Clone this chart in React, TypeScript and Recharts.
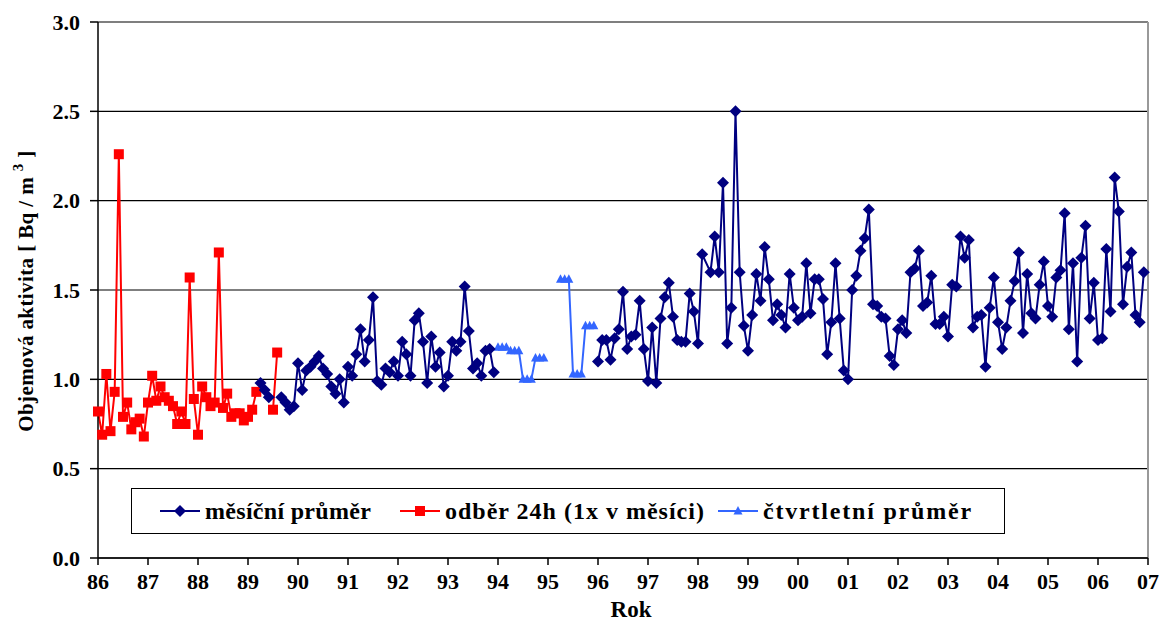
import React from "react";
import { LineChart, Line, XAxis, YAxis, CartesianGrid, ReferenceLine } from "recharts";

// x axis: one category per month, Jan 1986 .. Jan 2007
const yearLabels = [
  "86", "87", "88", "89", "90", "91", "92", "93", "94", "95", "96",
  "97", "98", "99", "00", "01", "02", "03", "04", "05", "06", "07",
];
const yTicks = [0, 0.5, 1, 1.5, 2, 2.5, 3];

// odběr 24h (1x v měsíci), month index 0 = Jan 1986, null = no sample
const redStart = 0;
const redValues = [
  0.82, 0.69, 1.03, 0.71, 0.93, 2.26, 0.79, 0.87, 0.72, 0.76, 0.78, 0.68,
  0.87, 1.02, 0.88, 0.96, 0.90, 0.88, 0.85, 0.75, 0.82, 0.75, 1.57, 0.89,
  0.69, 0.96, 0.90, 0.85, 0.87, 1.71, 0.84, 0.92, 0.79, 0.81, 0.81, 0.77,
  0.79, 0.83, 0.93, null, null, null, 0.83, 1.15,
];

// měsíční průměr, 1989 - 1993
const navyStartA = 39;
const navyValuesA = [
  0.98, 0.94, 0.90, null, null, 0.90, 0.87, 0.83, 0.85,
  1.09, 0.94, 1.05, 1.07, 1.10, 1.13, 1.06, 1.03, 0.96, 0.92, 1.00, 0.87,
  1.07, 1.02, 1.14, 1.28, 1.10, 1.22, 1.46, 0.99, 0.97, 1.06, 1.04, 1.10,
  1.02, 1.21, 1.14, 1.02, 1.33, 1.37, 1.21, 0.98, 1.24, 1.07, 1.15, 0.96,
  1.02, 1.21, 1.16, 1.21, 1.52, 1.27, 1.06, 1.09, 1.02, 1.16, 1.17, 1.04,
];

// měsíční průměr, 1996 - 2006 (null = missing month, line runs through)
const navyStartB = 120;
const navyValuesB = [
  1.10, 1.22, 1.22, 1.11, 1.23, 1.28, 1.49, 1.17, 1.24, 1.25, 1.44, 1.17,
  0.99, 1.29, 0.98, 1.34, 1.46, 1.54, 1.35, 1.22, 1.21, 1.21, 1.48, 1.38,
  1.20, 1.70, null, 1.60, 1.80, 1.60, 2.10, 1.20, 1.40, 2.50, 1.60, 1.30,
  1.16, 1.36, 1.59, 1.44, 1.74, 1.56, 1.33, 1.42, 1.36, 1.29, 1.59, 1.40,
  1.33, 1.35, 1.65, 1.37, 1.56, 1.56, 1.45, 1.14, 1.32, 1.65, 1.34, 1.05,
  1.00, 1.50, 1.58, 1.72, 1.79, 1.95, 1.42, 1.41, 1.35, 1.34, 1.13, 1.08,
  1.28, 1.33, 1.26, 1.60, 1.62, 1.72, 1.41, 1.43, 1.58, 1.31, 1.31, 1.35,
  1.24, 1.53, 1.52, 1.80, 1.68, 1.78, 1.29, 1.35, 1.36, 1.07, 1.40, 1.57,
  1.32, 1.17, 1.29, 1.44, 1.55, 1.71, 1.26, 1.59, 1.37, 1.34, 1.53, 1.66,
  1.41, 1.35, 1.57, 1.61, 1.93, 1.28, 1.65, 1.10, 1.68, 1.86, 1.34, 1.54,
  1.22, 1.23, 1.73, 1.38, 2.13, 1.94, 1.42, 1.63, 1.71, 1.36, 1.32, 1.60,
];

// čtvrtletní průměr from Q1 1994, drawn once per month of the quarter
const quarterStart = 96;
const quarterValues = [1.18, 1.16, 1.0, 1.12, null, 1.56, 1.03, 1.3];

const NAVY = "#000080";
const RED = "#FF0000";
const BLUE = "#3366FF";
const FONT = '"Liberation Serif", Tinos, "Times New Roman", Times, "DejaVu Serif", serif';

const monthCount = (yearLabels.length - 1) * 12;

const pick = (start: number, vals: (number | null)[], m: number) => {
  const v = vals[m - start];
  return v === undefined ? null : v;
};

const data = Array.from({ length: monthCount + 1 }, (_, m) => ({
  m,
  red: pick(redStart, redValues, m),
  navyA: pick(navyStartA, navyValuesA, m),
  navyB: pick(navyStartB, navyValuesB, m),
  quarter:
    m >= quarterStart
      ? quarterValues[Math.floor((m - quarterStart) / 3)] ?? null
      : null,
}));

const yearTicks = yearLabels.map((_, i) => i * 12);

const bad = (p: any) => p.cx == null || p.cy == null || isNaN(p.cx) || isNaN(p.cy) || p.value == null;

const Diamond = (p: any) => {
  if (bad(p)) return <g key={p.index} />;
  const r = 6;
  return (
    <path
      key={p.index}
      d={`M${p.cx},${p.cy - r}L${p.cx + r},${p.cy}L${p.cx},${p.cy + r}L${p.cx - r},${p.cy}Z`}
      fill={NAVY}
    />
  );
};

const Square = (p: any) => {
  if (bad(p)) return <g key={p.index} />;
  return <rect key={p.index} x={p.cx - 5} y={p.cy - 5} width={10} height={10} fill={RED} />;
};

const Triangle = (p: any) => {
  if (bad(p)) return <g key={p.index} />;
  return (
    <path
      key={p.index}
      d={`M${p.cx},${p.cy - 5}L${p.cx + 4.5},${p.cy + 3.5}L${p.cx - 4.5},${p.cy + 3.5}Z`}
      fill={BLUE}
    />
  );
};

const YTitle = () => (
  <text
    x={26}
    y={291}
    transform="rotate(-90, 26, 291)"
    textAnchor="middle"
    dominantBaseline="central"
    style={{ fontFamily: FONT, fontWeight: 700, fontSize: 21, letterSpacing: 0.4 }}
    fill="#000"
  >
    Objemová aktivita [ Bq / m{" "}
    <tspan dy={-8} style={{ fontSize: 15 }}>3</tspan>
    <tspan dy={8}> ]</tspan>
  </text>
);

const XTitle = () => (
  <text x={631} y={609} textAnchor="middle" dominantBaseline="central"
    style={{ fontFamily: FONT, fontWeight: 700, fontSize: 23 }} fill="#000">
    Rok
  </text>
);

const legendItems = [
  { name: "měsíční průměr", color: NAVY, shape: "diamond", left: 28, spacing: 0.3 },
  { name: "odběr 24h (1x v měsíci)", color: RED, shape: "square", left: 268, spacing: 1 },
  { name: "čtvrtletní průměr", color: BLUE, shape: "triangle", left: 586, spacing: 1.8 },
];

function LegendIcon({ color, shape }: { color: string; shape: string }) {
  return (
    <svg width={40} height={14} style={{ marginRight: 5 }}>
      <line x1={0} y1={7} x2={40} y2={7} stroke={color} strokeWidth={2} />
      {shape === "diamond" && <path d="M20,1L26,7L20,13L14,7Z" fill={color} />}
      {shape === "square" && <rect x={15} y={2} width={10} height={10} fill={color} />}
      {shape === "triangle" && <path d="M20,2L24.5,10.5L15.5,10.5Z" fill={color} />}
    </svg>
  );
}

const tickStyle = { fill: "#000", fontSize: 22, fontWeight: 700, fontFamily: FONT, style: { fontFamily: FONT } };

export default function App() {
  return (
    <div style={{ position: "absolute", left: 0, top: 0, width: 1166, height: 621, background: "#fff", fontFamily: FONT }}>
      <LineChart width={1166} height={621} data={data} margin={{ top: 22, right: 18, bottom: 0, left: 40 }}>
        <CartesianGrid vertical={false} stroke="#000" strokeWidth={1.2} />
        <ReferenceLine x={monthCount} stroke="#999" strokeWidth={2} />
        <XAxis
          dataKey="m"
          type="number"
          domain={[0, monthCount]}
          ticks={yearTicks}
          interval={0}
          tickFormatter={(v: number) => yearLabels[v / 12]}
          height={63}
          tickSize={7}
          tickMargin={8}
          stroke="#000"
          strokeWidth={1.5}
          tick={tickStyle}
          label={<XTitle />}
        />
        <YAxis
          domain={[0, 3]}
          ticks={yTicks}
          width={58}
          tickSize={8}
          tickMargin={10}
          stroke="#000"
          strokeWidth={1.5}
          tickFormatter={(v: number) => v.toFixed(1)}
          tick={tickStyle}
          label={<YTitle />}
        />
        <Line dataKey="red" stroke={RED} strokeWidth={2} dot={Square} activeDot={false} isAnimationActive={false} />
        <Line dataKey="quarter" stroke={BLUE} strokeWidth={2} dot={Triangle} activeDot={false} isAnimationActive={false} />
        <Line dataKey="navyA" stroke={NAVY} strokeWidth={2} dot={Diamond} activeDot={false} isAnimationActive={false} />
        <Line dataKey="navyB" stroke={NAVY} strokeWidth={2} dot={Diamond} activeDot={false} connectNulls isAnimationActive={false} />
      </LineChart>
      <div
        style={{
          position: "absolute",
          left: 131,
          top: 488,
          width: 874,
          height: 46,
          border: "1.5px solid #000",
          background: "#fff",
          boxSizing: "border-box",
          fontFamily: FONT,
          fontWeight: 700,
          fontSize: 24,
        }}
      >
        {legendItems.map((it) => (
          <div
            key={it.name}
            style={{
              position: "absolute",
              left: it.left,
              top: 0,
              height: "100%",
              display: "flex",
              alignItems: "center",
              whiteSpace: "nowrap",
              letterSpacing: it.spacing,
            }}
          >
            <LegendIcon color={it.color} shape={it.shape} />
            {it.name}
          </div>
        ))}
      </div>
    </div>
  );
}
